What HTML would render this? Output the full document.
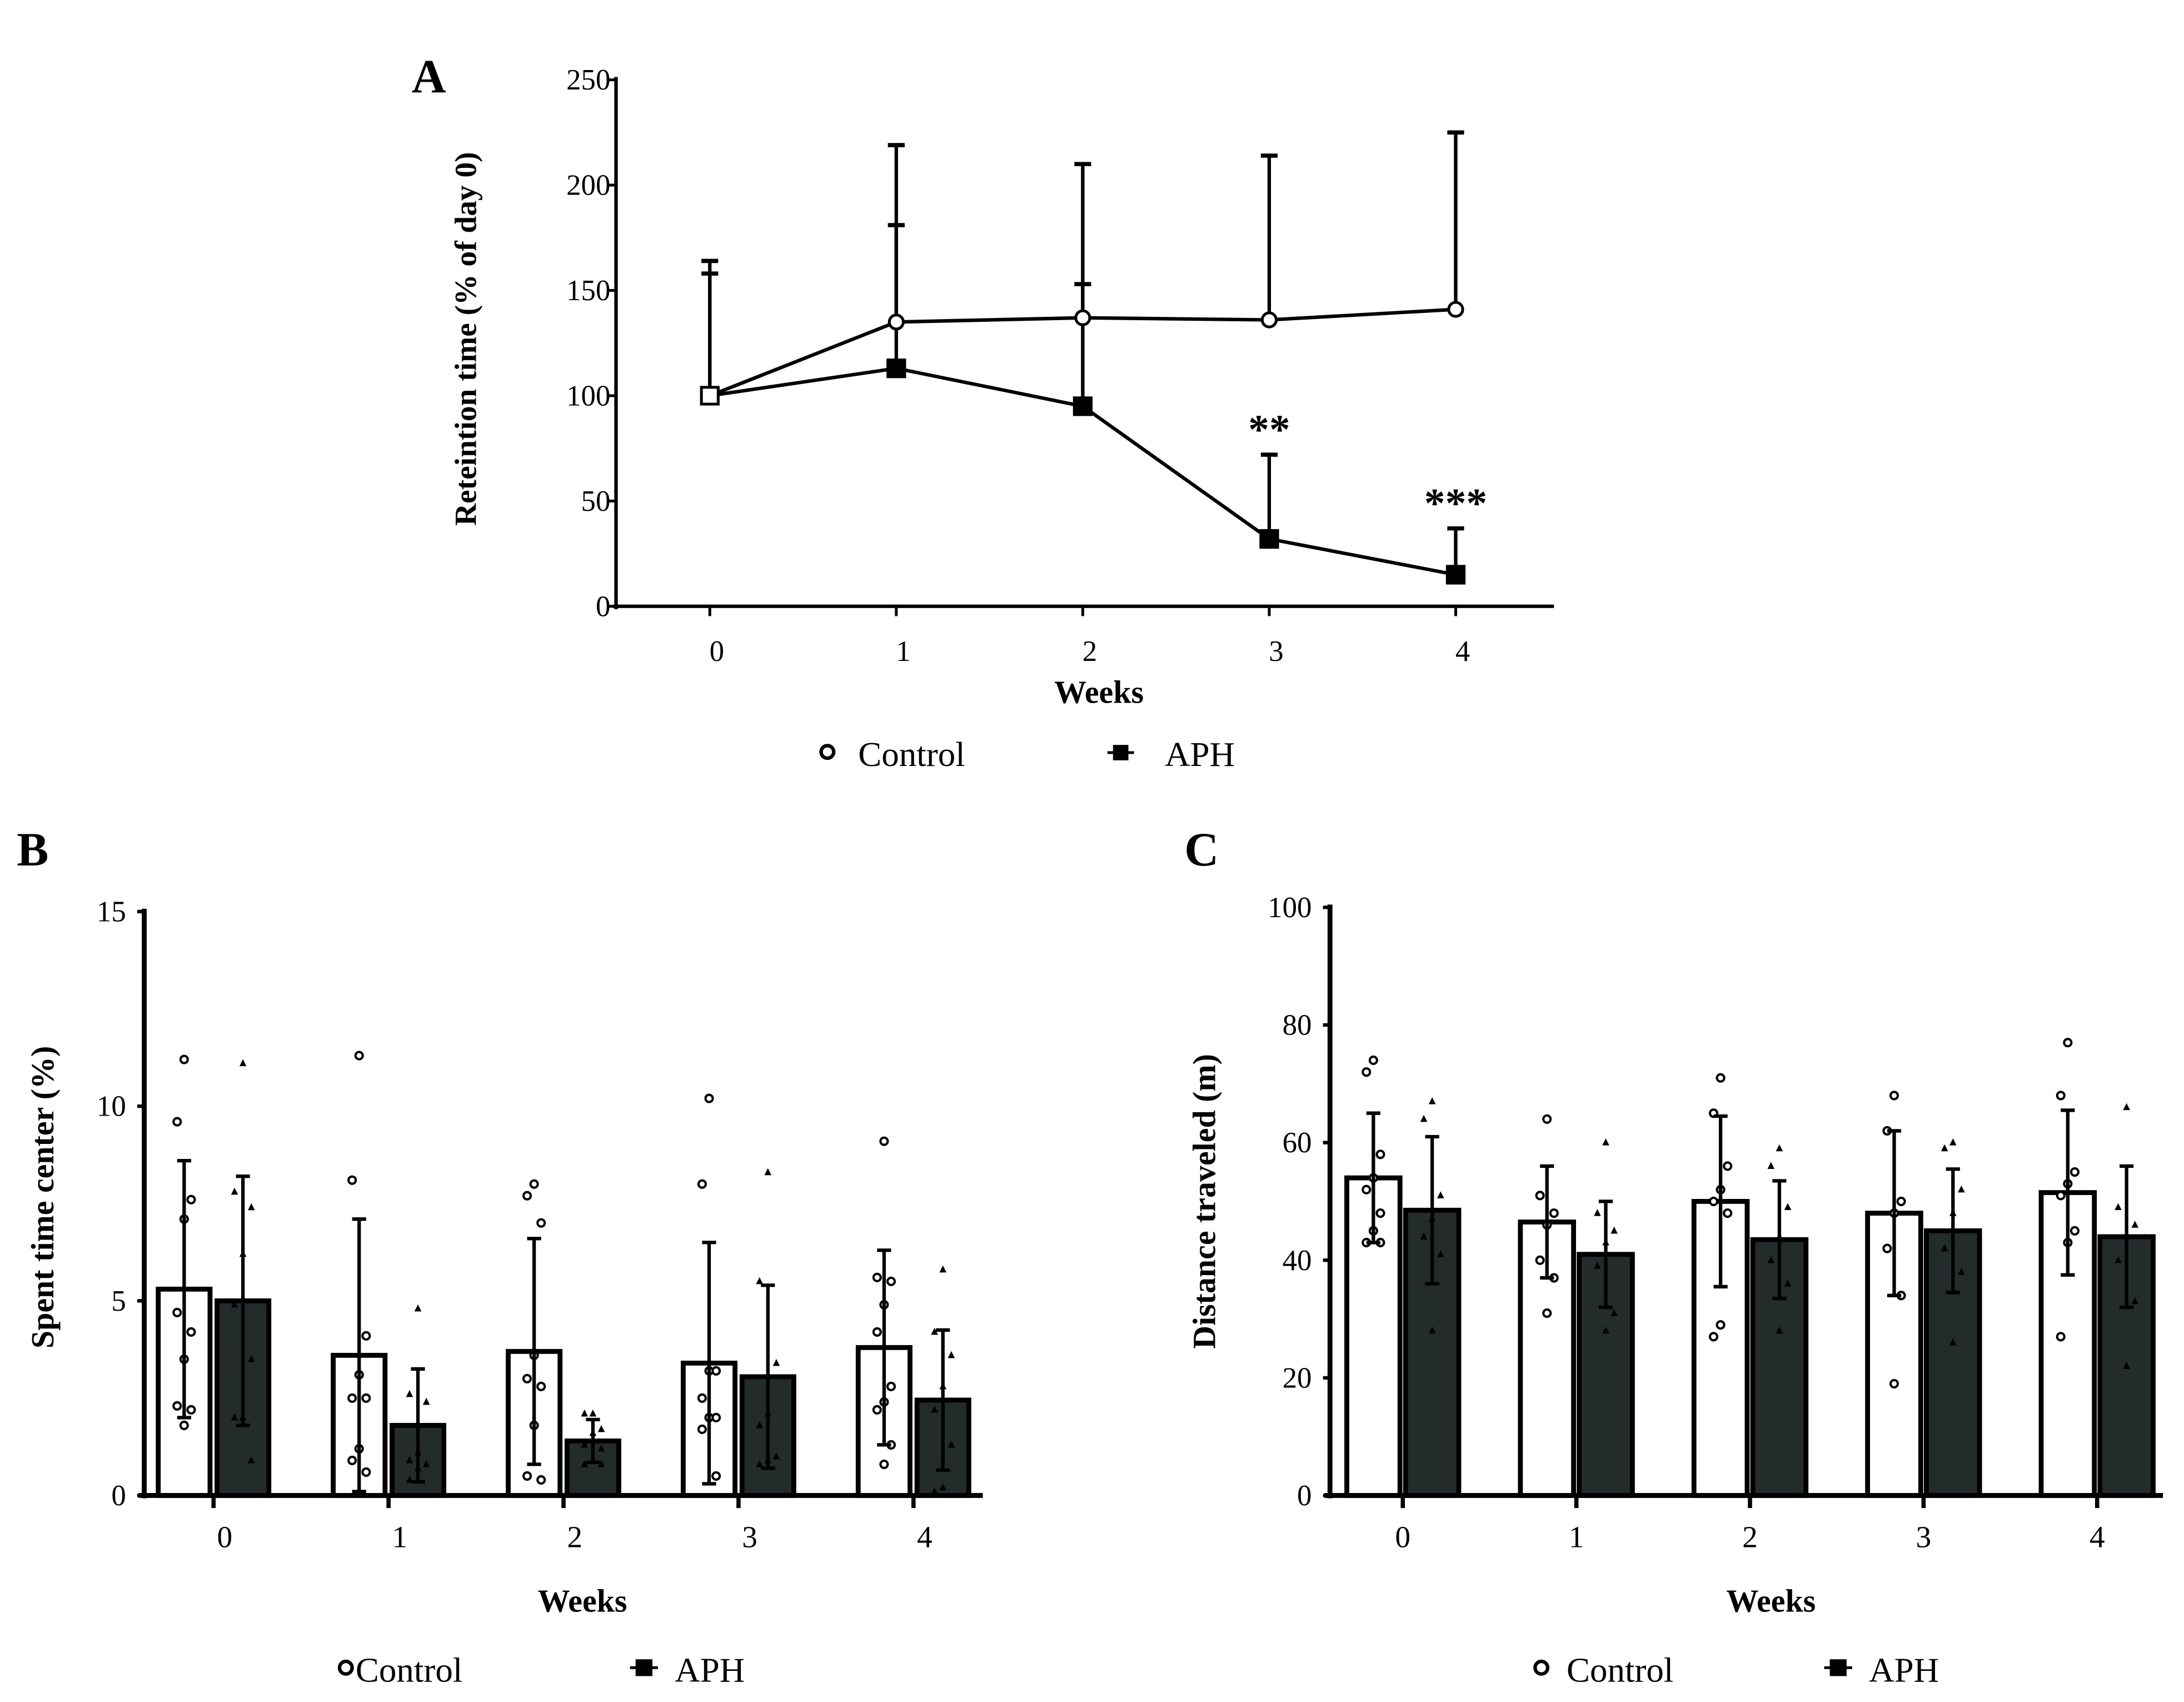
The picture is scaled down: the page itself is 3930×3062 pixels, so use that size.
<!DOCTYPE html>
<html><head><meta charset="utf-8"><style>
html,body{margin:0;padding:0;background:#fff;}
svg{display:block;}
text{font-family:"Liberation Serif","DejaVu Serif",serif;fill:#000;}
</style></head><body>
<svg id="fig" width="3930" height="3062" viewBox="0 0 1560 1215.5" xmlns="http://www.w3.org/2000/svg"></svg>
<script>
// ---- Panel A data ----
const aWeeks = [0,1,2,3,4];
const aControl = [100,135,137,136,141];
const aControlUpper = [164,219,210,214,225];
const aAPH = [100,113,95,32,15];
const aAPHUpper = [158,181,153,72,37];
const aTicks = [0,50,100,150,200,250];
const aStars = ["","","","**","***"];
// ---- Panel B data ----
const bControl = [5.3,3.6,3.7,3.4,3.8];
const bControlSD = [3.3,3.5,2.9,3.1,2.5];
const bAPH = [5.0,1.8,1.4,3.05,2.45];
const bAPHSD = [3.2,1.45,0.55,2.35,1.8];
const bControlPts = [[11.2,9.6,7.6,7.1,4.7,4.2,3.5,2.3,2.2,1.8],[11.3,8.1,4.1,3.1,2.5,2.5,1.2,0.9,0.6],[8.0,7.7,7.0,3.6,3.0,2.8,1.8,0.5,0.4],[10.2,8.0,3.2,3.2,2.5,2.0,2.0,1.7,0.5],[9.1,5.6,5.5,4.9,4.2,2.8,2.4,2.2,1.3,0.8]];
const bAPHPts = [[11.1,7.8,7.4,6.2,4.9,3.5,2.0,2.0,0.9],[4.8,2.6,2.4,1.1,0.9,0.8,0.7,0.4],[2.1,2.1,1.7,1.6,1.3,1.2,0.9,0.8,0.8],[8.3,5.5,3.4,2.1,1.8,1.0,0.9,0.8],[5.8,4.2,3.6,2.8,2.2,1.3,0.2,0.1]];
const bTicks = [0,5,10,15];
// ---- Panel C data ----
const cControl = [54,46.5,50,48,51.5];
const cControlSD = [11,9.5,14.5,14,14];
const cAPH = [48.5,41,43.5,45,44];
const cAPHSD = [12.5,9,10,10.5,12];
const cControlPts = [[74,72,58,54,52,48,45,43,43],[64,51,48,46,40,37,31],[71,65,56,52,50,48,29,27],[68,62,50,48,42,34,19],[77,68,55,53,51,45,43,27]];
const cAPHPts = [[67,64,51,47,44,41,28],[60,48,45,43,39,31,28],[59,56,49,44,40,36,28],[60,59,52,48,42,38,26],[66,49,46,44,40,33,22]];
const cTicks = [0,20,40,60,80,100];
const weekLabels = ["0","1","2","3","4"];

const NS="http://www.w3.org/2000/svg";
const svg=document.getElementById('fig');
function mk(tag,attrs,parent,txt){const e=document.createElementNS(NS,tag);for(const k in attrs)e.setAttribute(k,attrs[k]);if(txt!==undefined)e.textContent=txt;(parent||svg).appendChild(e);return e;}

// ================= Panel A =================
const A={x0:440,x1:1110,yTop:57,yBot:433,max:250,cat0:507,step:133.2};
const ay=v=>A.yBot-(v/A.max)*(A.yBot-A.yTop);
const ax=i=>A.cat0+i*A.step;
const gA=mk('g',{});


let t=mk('text',{x:294,y:66,'font-size':34,'font-weight':'bold'},gA,'A');

let l=mk('line',{x1:A.x0,y1:A.yTop-2,x2:A.x0,y2:A.yBot+2,stroke:'#000','stroke-width':2.5},gA);

l=mk('line',{x1:A.x0-2,y1:A.yBot,x2:A.x1,y2:A.yBot,stroke:'#000','stroke-width':2.5},gA);

aTicks.forEach(v=>{
  mk('line',{x1:A.x0-5,y1:ay(v),x2:A.x0,y2:ay(v),stroke:'#000','stroke-width':2},gA);
  const tt=mk('text',{x:A.x0-4,y:ay(v)+7,'font-size':21,'text-anchor':'end'},gA,String(v));
  
});
aWeeks.forEach((w,i)=>{
  mk('line',{x1:ax(i),y1:A.yBot,x2:ax(i),y2:A.yBot+7,stroke:'#000','stroke-width':2},gA);
  const tt=mk('text',{x:ax(i)+5,y:472,'font-size':21,'text-anchor':'middle'},gA,weekLabels[i]);
  
});
t=mk('text',{x:785,y:502,'font-size':23,'font-weight':'bold','text-anchor':'middle'},gA,'Weeks');

t=mk('text',{x:0,y:0,'font-size':22,'font-weight':'bold','text-anchor':'middle',transform:'translate(340,242) rotate(-90)'},gA,'Reteintion time (% of day 0)');

// error bars
function errUp(g,x,v,top,fy,name){
  const e=mk('g',{},g);
  
  mk('line',{x1:x,y1:fy(v),x2:x,y2:fy(top),stroke:'#000','stroke-width':2.5},e);
  mk('line',{x1:x-6,y1:fy(top),x2:x+6,y2:fy(top),stroke:'#000','stroke-width':3},e);
}
aControl.forEach((v,i)=>errUp(gA,ax(i),v,aControlUpper[i],ay,'a-control-error-bar'));
aAPH.forEach((v,i)=>errUp(gA,ax(i),v,aAPHUpper[i],ay,'a-aph-error-bar'));
let p=mk('polyline',{points:aControl.map((v,i)=>ax(i)+','+ay(v)).join(' '),fill:'none',stroke:'#000','stroke-width':2.5},gA);

p=mk('polyline',{points:aAPH.map((v,i)=>ax(i)+','+ay(v)).join(' '),fill:'none',stroke:'#000','stroke-width':2.5},gA);

aAPH.forEach((v,i)=>{
  const r=mk('rect',{x:ax(i)-6,y:ay(v)-6,width:12,height:12,fill:i===0?'#fff':'#000',stroke:'#000','stroke-width':2},gA);
  
});
aControl.forEach((v,i)=>{
  if(i===0)return;
  const c=mk('circle',{cx:ax(i),cy:ay(v),r:5,fill:'#fff',stroke:'#000','stroke-width':2},gA);
  
});
aStars.forEach((s,i)=>{
  if(!s)return;
  const tt=mk('text',{x:ax(i),y:ay(aAPHUpper[i])-8,'font-size':30,'font-weight':'bold','text-anchor':'middle'},gA,s);
  
});
// legend A
let lg=mk('g',{},gA);
mk('circle',{cx:591,cy:537,r:4.5,fill:'#fff',stroke:'#000','stroke-width':2.5},lg);
mk('text',{x:613,y:547,'font-size':25},lg,'Control');
mk('rect',{x:795,y:532,width:11,height:11,fill:'#000'},lg);
mk('line',{x1:791,y1:537.5,x2:810,y2:537.5,stroke:'#000','stroke-width':2},lg);
mk('text',{x:832,y:547,'font-size':25},lg,'APH');

// ================= Bar panels =================
function barPanel(cfg){
  const g=mk('g',{});
  
  
  const fy=v=>cfg.yBot-(v/cfg.max)*(cfg.yBot-cfg.yTop);
  const gx=i=>cfg.g0+i*cfg.step;
  let tt=mk('text',{x:cfg.letterX,y:618,'font-size':34,'font-weight':'bold'},g,cfg.letter);
  
  // bars
  cfg.ctrl.forEach((v,i)=>{
    const r=mk('rect',{x:gx(i),y:fy(v),width:cfg.bw,height:cfg.yBot-fy(v),fill:'#fff',stroke:'#000','stroke-width':3.5},g);
    
  });
  cfg.aph.forEach((v,i)=>{
    const r=mk('rect',{x:gx(i)+cfg.bw+cfg.gap,y:fy(v),width:cfg.bw,height:cfg.yBot-fy(v),fill:'#232b2b',stroke:'#000','stroke-width':3.5},g);
    
  });
  // points
  cfg.ctrlPts.forEach((arr,i)=>arr.forEach((v,k)=>{
    const cx=gx(i)+cfg.bw/2+(k%3===1?-5:(k%3===2?5:0));
    const c=mk('circle',{cx:cx,cy:fy(v),r:2.6,fill:'#fff',stroke:'#000','stroke-width':1.6},g);
    
  }));
  cfg.aphPts.forEach((arr,i)=>arr.forEach((v,k)=>{
    const cx=gx(i)+cfg.bw*1.5+cfg.gap+(k%3===1?-6:(k%3===2?6:0));
    const y=fy(v);
    const c=mk('polygon',{points:`${cx},${y-3} ${cx-2.5},${y+2} ${cx+2.5},${y+2}`,fill:'#000'},g);
    
  }));
  // error bars
  function eb(x,v,sd,name){
    const e=mk('g',{},g);
    mk('line',{x1:x,y1:fy(v+sd),x2:x,y2:fy(Math.max(0,v-sd)),stroke:'#000','stroke-width':2.5},e);
    mk('line',{x1:x-5,y1:fy(v+sd),x2:x+5,y2:fy(v+sd),stroke:'#000','stroke-width':2.5},e);
    mk('line',{x1:x-5,y1:fy(Math.max(0,v-sd)),x2:x+5,y2:fy(Math.max(0,v-sd)),stroke:'#000','stroke-width':2.5},e);
  }
  cfg.ctrl.forEach((v,i)=>eb(gx(i)+cfg.bw/2,v,cfg.ctrlSD[i],cfg.pre+'-control-error-bar'));
  cfg.aph.forEach((v,i)=>eb(gx(i)+cfg.bw*1.5+cfg.gap,v,cfg.aphSD[i],cfg.pre+'-aph-error-bar'));
  // axes
  let a=mk('line',{x1:cfg.x0,y1:cfg.yTop-2,x2:cfg.x0,y2:cfg.yBot+2,stroke:'#000','stroke-width':3.5},g);
  
  a=mk('line',{x1:cfg.x0-4,y1:cfg.yBot,x2:cfg.x1,y2:cfg.yBot,stroke:'#000','stroke-width':3.5},g);
  
  cfg.ticks.forEach(v=>{
    mk('line',{x1:cfg.x0-5,y1:fy(v),x2:cfg.x0,y2:fy(v),stroke:'#000','stroke-width':2.5},g);
    const t2=mk('text',{x:cfg.x0-13,y:fy(v)+7,'font-size':21,'text-anchor':'end'},g,String(v));
    
  });
  weekLabels.forEach((w,i)=>{
    const xm=gx(i)+cfg.bw+cfg.gap/2;
    mk('line',{x1:xm,y1:cfg.yBot,x2:xm,y2:cfg.yBot+9,stroke:'#000','stroke-width':3},g);
    const t2=mk('text',{x:xm+cfg.lblOff,y:1105,'font-size':22,'text-anchor':'middle'},g,w);
    
  });
  tt=mk('text',{x:cfg.weeksX,y:1151,'font-size':23,'font-weight':'bold','text-anchor':'middle'},g,'Weeks');
  
  tt=mk('text',{x:0,y:0,'font-size':23,'font-weight':'bold','text-anchor':'middle',transform:`translate(${cfg.ylabX},${cfg.ylabY}) rotate(-90)`},g,cfg.ylab);
  
  const lg2=mk('g',{},g);
  mk('circle',{cx:cfg.legC,cy:1191,r:4.5,fill:'#fff',stroke:'#000','stroke-width':2.5},lg2);
  mk('text',{x:cfg.legC+(cfg.pre==='b'?7:18),y:1201,'font-size':25},lg2,'Control');
  mk('rect',{x:cfg.legA-6,y:1185,width:12,height:12,fill:'#000'},lg2);
  mk('line',{x1:cfg.legA-10,y1:1191,x2:cfg.legA+10,y2:1191,stroke:'#000','stroke-width':2},lg2);
  mk('text',{x:cfg.legA+22,y:1201,'font-size':25},lg2,'APH');
}
barPanel({name:'panel-b',pre:'b',letter:'B',letterX:12,x0:103,x1:702,yTop:651,yBot:1068,max:15,g0:113,step:125,bw:37,gap:5,
  ctrl:bControl,aph:bAPH,ctrlSD:bControlSD,aphSD:bAPHSD,ctrlPts:bControlPts,aphPts:bAPHPts,ticks:bTicks,lblOff:8,
  weeksX:416,ylab:'Spent time center (%)',ylabX:38,ylabY:855,legC:247,legA:460});
barPanel({name:'panel-c',pre:'c',letter:'C',letterX:846,x0:950,x1:1545,yTop:648,yBot:1068,max:100,g0:962,step:124,bw:38,gap:4,
  ctrl:cControl,aph:cAPH,ctrlSD:cControlSD,aphSD:cAPHSD,ctrlPts:cControlPts,aphPts:cAPHPts,ticks:cTicks,lblOff:0,
  weeksX:1265,ylab:'Distance traveled (m)',ylabX:868,ylabY:858,legC:1101,legA:1313});
</script>
</body></html>
